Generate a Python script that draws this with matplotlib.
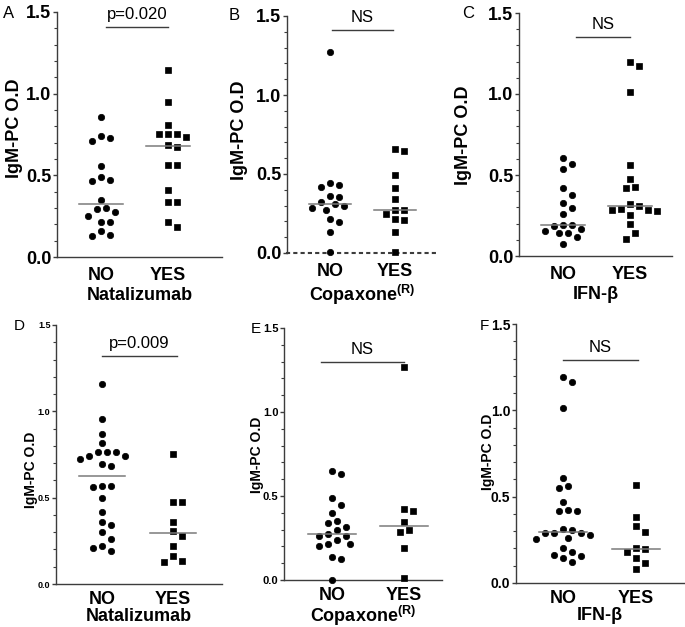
import numpy as np
import matplotlib
matplotlib.use('Agg')
from matplotlib import pyplot as plt

plt.rcParams['font.family'] = ['Liberation Sans', 'DejaVu Sans']
plt.rcParams['mathtext.fontset'] = 'custom'
plt.rcParams['mathtext.rm'] = 'Liberation Sans'
plt.rcParams['mathtext.bf'] = 'Liberation Sans:bold'

groups = ['NO', 'YES']

# A - Natalizumab (top)
a_no = [0.858, 0.731, 0.743, 0.713, 0.559, 0.464, 0.472, 0.490, 0.350,
        0.294, 0.302, 0.277, 0.251, 0.217, 0.217, 0.162, 0.126, 0.132]
a_yes = [1.146, 0.947, 0.806, 0.753, 0.753, 0.733, 0.753, 0.688, 0.672,
         0.563, 0.563, 0.413, 0.334, 0.334, 0.215, 0.186]
# B - Copaxone (top)
b_no = [1.27, 0.418, 0.433, 0.444, 0.355, 0.325, 0.359, 0.287, 0.270,
        0.308, 0.298, 0.196, 0.218, 0.133, 0.006]
b_yes = [0.646, 0.658, 0.494, 0.409, 0.342, 0.272, 0.272, 0.245, 0.215,
         0.209, 0.135, 0.004]
# C - IFN-beta (top)
c_no = [0.606, 0.540, 0.565, 0.421, 0.376, 0.325, 0.298, 0.259, 0.166,
        0.191, 0.187, 0.191, 0.140, 0.154, 0.140, 0.119, 0.074]
c_yes = [1.171, 1.198, 1.013, 0.561, 0.473, 0.421, 0.424, 0.321, 0.279,
         0.288, 0.308, 0.284, 0.284, 0.253, 0.197, 0.144, 0.103]
# D - Natalizumab (bottom)
d_no = [1.156, 0.954, 0.867, 0.815, 0.766, 0.743, 0.741, 0.763, 0.763,
        0.722, 0.685, 0.695, 0.569, 0.569, 0.564, 0.496, 0.419, 0.361,
        0.342, 0.299, 0.259, 0.193, 0.220, 0.210]
d_yes = [0.751, 0.477, 0.473, 0.361, 0.280, 0.309, 0.220, 0.162, 0.129, 0.135]
# E - Copaxone (bottom)
e_no = [0.632, 0.646, 0.487, 0.447, 0.401, 0.338, 0.298, 0.238, 0.353,
        0.318, 0.262, 0.262, 0.274, 0.203, 0.215, 0.215, 0.135, 0.125, 0.0]
e_yes = [1.268, 0.423, 0.413, 0.348, 0.288, 0.298, 0.189, 0.01]
# F - IFN-beta (bottom)
f_no = [1.166, 1.195, 1.011, 0.611, 0.548, 0.563, 0.470, 0.418, 0.418,
        0.422, 0.310, 0.277, 0.287, 0.290, 0.287, 0.306, 0.261, 0.252,
        0.200, 0.161, 0.122, 0.180, 0.142, 0.155]
f_yes = [0.567, 0.383, 0.331, 0.296, 0.195, 0.200, 0.180, 0.145, 0.118, 0.083]

letters = ['A', 'B', 'C', 'D', 'E', 'F']
stats = ['p=0.020', 'NS', 'NS', 'p=0.009', 'NS', 'NS']
xlabels = ['Natalizumab', r'Copaxone$^{\mathbf{(R)}}$', 'IFN-β',
           'Natalizumab', r'Copaxone$^{\mathbf{(R)}}$', 'IFN-β']
series = [(a_no, a_yes), (b_no, b_yes), (c_no, c_yes),
          (d_no, d_yes), (e_no, e_yes), (f_no, f_yes)]

W, H = 685, 627
# layout in pixels: spine x, axis end x, y of 0.0, y of 1.5, NO x, YES x
layout = [
    (57, 222, 257, 12, 101, 168),
    (287, 438, 253, 16, 330, 395),
    (519, 672, 256, 13, 563, 630),
    (56, 222, 584, 325, 102, 173),
    (284, 442, 580, 328, 332, 404),
    (516, 684, 583, 324, 563, 636),
]
# significance bar: y value, x from, x to (category units)
bars = [(1.41, 0.08, 1.0), (1.41, 0.03, 0.97), (1.35, 0.2, 1.0),
        (1.32, 0.0, 1.05), (1.30, -0.15, 1.0), (1.29, 0.0, 1.03)]
tick_fs = [13, 13, 13, 6.5, 8, 10]
ylab_fs = [13, 13, 13, 10, 10, 10]
ylab_pos = [(15, 128), (240, 130), (463, 135), (31, 470), (257, 455), (488, 452)]
letter_pos = [(3, 14), (229, 16), (462, 14), (14, 326), (251, 329), (480, 326)]


def swarm(vals, ppu_y, diam, step):
    placed = []
    offs = np.zeros(len(vals))
    order = np.argsort(vals)[::-1]
    cands = [0.0]
    for j in range(1, 30):
        cands += [j * step, -j * step]
    for i in order:
        y = vals[i] * ppu_y
        for c in cands:
            if all((c - px) ** 2 + (y - py) ** 2 >= diam ** 2 for px, py in placed):
                break
        placed.append((c, y))
        offs[i] = c
    return offs


fig = plt.figure(figsize=(W / 100, H / 100), dpi=100)
grey = '#3c3c3c'

for k in range(6):
    left, right, y0, y15, x_no, x_yes = layout[k]
    ax = fig.add_axes([left / W, 1 - y0 / H, (right - left) / W, (y0 - y15) / H])
    unit = x_yes - x_no
    ax.set_xlim(-(x_no - left) / unit, 1 + (right - x_yes) / unit)
    ax.set_ylim(0, 1.5)
    ppu_y = (y0 - y15) / 1.5
    for g, (vals, mk, ms) in enumerate(zip(series[k], ['o', 's'], [4.6, 4.4])):
        vals = np.array(vals)
        offs = swarm(vals, ppu_y, 8.6, 4.5) / unit
        ax.plot(g + offs, vals, ls='none', marker=mk, ms=ms, color='black',
                mec='black', mew=0.5, zorder=3, clip_on=False)
        med = np.median(vals)
        ax.plot([g - 0.33, g + 0.33], [med, med], color='#7a7a7a', lw=1.1, zorder=4)
    by, bx0, bx1 = bars[k]
    ax.plot([bx0, bx1], [by, by], color=grey, lw=1.0)
    ax.text((bx0 + bx1) / 2, by + 0.03, stats[k], ha='center', va='bottom', fontsize=12)

    for s in ['top', 'right']:
        ax.spines[s].set_visible(False)
    for s in ['left', 'bottom']:
        ax.spines[s].set_color(grey)
        ax.spines[s].set_linewidth(1.0)
    if k == 1:
        ax.spines['bottom'].set_linestyle((0, (1, 2.5)))
        ax.spines['bottom'].set_linewidth(1.5)
    ax.set_yticks([0, 0.5, 1.0, 1.5])
    ax.set_yticks(np.arange(0, 1.51, 0.1), minor=True)
    ax.set_yticklabels(['0.0', '0.5', '1.0', '1.5'], fontweight='bold', fontsize=tick_fs[k])
    ax.tick_params(axis='y', which='major', length=3, width=1, color=grey, pad=1)
    ax.tick_params(axis='y', which='minor', length=2, width=0.8, color=grey)
    ax.set_xticks([0, 1])
    ax.set_xticklabels(groups, fontweight='bold', fontsize=13)
    ax.tick_params(axis='x', length=0, pad=7 if k < 3 else 5)
    ax.set_xlabel(xlabels[k], fontweight='bold', fontsize=13, labelpad=2 if k < 3 else 0)

    fig.text(ylab_pos[k][0] / W, 1 - ylab_pos[k][1] / H, 'IgM-PC O.D', rotation=90,
             ha='center', va='center', fontweight='bold', fontsize=ylab_fs[k])
    fig.text(letter_pos[k][0] / W, 1 - letter_pos[k][1] / H, letters[k],
             ha='left', va='center', fontsize=12 if k < 3 else 11)

fig.savefig('out.png', dpi=100)
